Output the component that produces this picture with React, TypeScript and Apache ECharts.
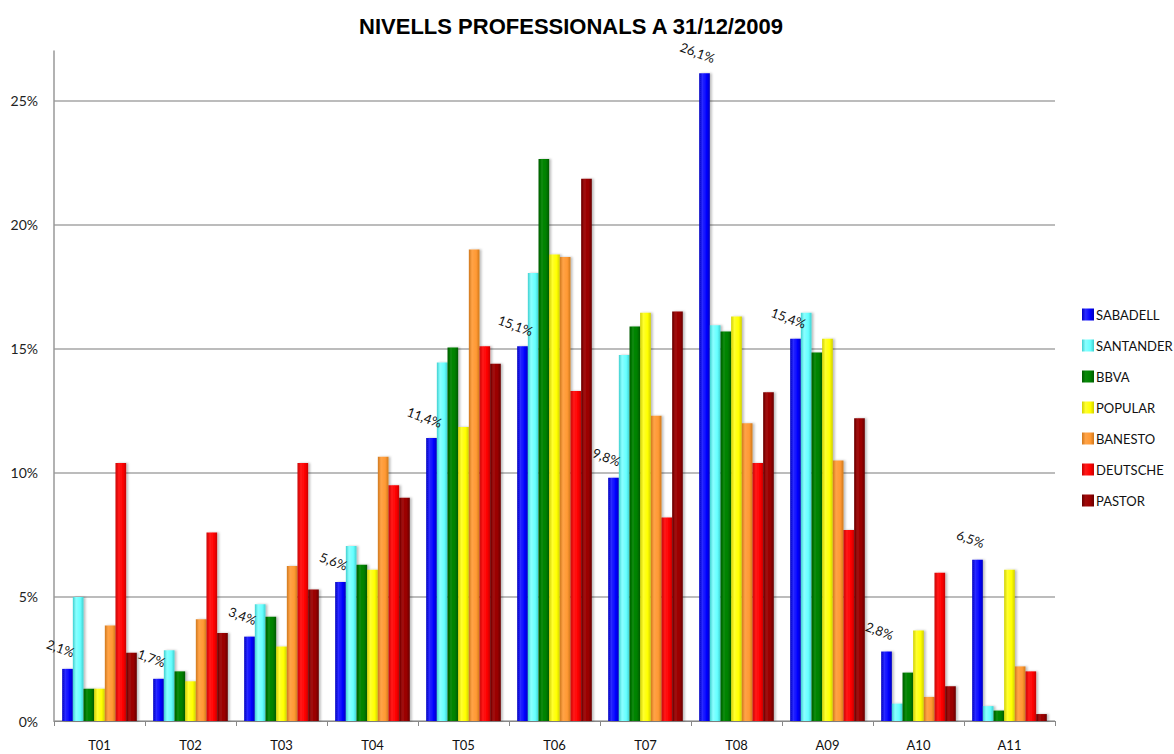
import React, { useEffect, useRef } from "react";
import * as echarts from "echarts";

const categories = ["T01", "T02", "T03", "T04", "T05", "T06", "T07", "T08", "A09", "A10", "A11"];
const seriesNames = ["SABADELL", "SANTANDER", "BBVA", "POPULAR", "BANESTO", "DEUTSCHE", "PASTOR"];

const sabadell = [2.1, 1.7, 3.4, 5.6, 11.4, 15.1, 9.8, 26.1, 15.4, 2.8, 6.5];
const santander = [5.0, 2.85, 4.7, 7.05, 14.45, 18.05, 14.75, 15.95, 16.45, 0.7, 0.6];
const bbva = [1.3, 2.0, 4.2, 6.3, 15.05, 22.65, 15.9, 15.7, 14.85, 1.95, 0.42];
const popular = [1.3, 1.6, 3.0, 6.1, 11.85, 18.8, 16.45, 16.3, 15.4, 3.65, 6.1];
const banesto = [3.85, 4.1, 6.25, 10.65, 19.0, 18.7, 12.3, 12.0, 10.5, 0.97, 2.2];
const deutsche = [10.4, 7.6, 10.4, 9.5, 15.1, 13.3, 8.2, 10.4, 7.7, 5.97, 2.0];
const pastor = [2.75, 3.55, 5.3, 9.0, 14.4, 21.85, 16.5, 13.25, 12.2, 1.4, 0.28];

const yTickValues = [0, 5, 10, 15, 20, 25];

const allData = [sabadell, santander, bbva, popular, banesto, deutsche, pastor];
const baseColors = ["#0000ff", "#66ffff", "#008000", "#ffff00", "#ff9933", "#ff0000", "#990000"];
const edgeColors = ["#0000c0", "#3fd0d0", "#005a00", "#d0d000", "#d0781c", "#c80000", "#680000"];
const lightColors = ["#2a2aff", "#8affff", "#0a8a0a", "#ffff30", "#ffa347", "#ff1a1a", "#a00a0a"];

export default function App() {
  const ref = useRef<HTMLDivElement>(null);
  useEffect(() => {
    document.body.style.margin = "0";
    const chart = echarts.init(ref.current!, null, { renderer: "svg" });
    const font = "Lato, 'Open Sans', sans-serif";
    const series = allData.map((d, i) => ({
      name: seriesNames[i],
      type: "bar",
      data: d,
      barGap: "0%",
      barCategoryGap: "18%",
      itemStyle: {
        color: new echarts.graphic.LinearGradient(0, 0, 1, 0, [
          { offset: 0, color: edgeColors[i] },
          { offset: 0.3, color: lightColors[i] },
          { offset: 0.7, color: baseColors[i] },
          { offset: 1, color: edgeColors[i] },
        ]),
        shadowColor: "rgba(0,0,0,0.25)",
        shadowOffsetX: 2,
        shadowBlur: 2,
      },
      label:
        i === 0
          ? {
              show: true,
              position: "top",
              rotate: -20,
              offset: [-12, -6],
              fontFamily: font,
              fontSize: 13,
              color: "#111",
              formatter: (p: any) => p.value.toFixed(1).replace(".", ",") + "%",
            }
          : { show: false },
    }));
    chart.setOption({
      animation: false,
      backgroundColor: "#ffffff",
      title: {
        text: "NIVELLS PROFESSIONALS A 31/12/2009",
        left: 566,
        textAlign: "center",
        top: 10,
        textStyle: {
          fontFamily: "'Liberation Sans', Arial, sans-serif",
          fontWeight: "bold",
          fontSize: 22,
          color: "#000",
        },
      },
      legend: {
        orient: "vertical",
        left: 1077,
        top: 303,
        itemWidth: 12,
        itemHeight: 12,
        itemGap: 18,
        icon: "rect",
        data: seriesNames,
        textStyle: { fontFamily: font, fontSize: 13, color: "#111", padding: [0, 0, 0, -3], lineHeight: 12 },
      },
      grid: { left: 54, right: 119, top: 51, bottom: 33 },
      xAxis: {
        type: "category",
        data: categories,
        axisLine: { lineStyle: { color: "#888", width: 1 } },
        axisTick: { show: true, length: 5, lineStyle: { color: "#888" } },
        axisLabel: { fontFamily: font, fontSize: 13, color: "#111", margin: 17 },
      },
      yAxis: {
        type: "value",
        min: 0,
        max: 27,
        interval: 5,
        axisLine: { show: true, lineStyle: { color: "#999", width: 1.5 } },
        axisTick: { show: false },
        axisLabel: {
          fontFamily: font,
          fontSize: 14,
          color: "#222",
          margin: 16,
          formatter: (v: number) => (yTickValues.includes(v) ? v + "%" : ""),
        },
        splitLine: {
          show: true,
          lineStyle: {
            color: ["#a6a6a6", "#a6a6a6", "#a6a6a6", "#a6a6a6", "#a6a6a6", "#a6a6a6", "rgba(0,0,0,0)"],
            width: 1.5,
          },
        },
      },
      series,
    });
    return () => chart.dispose();
  }, []);
  return <div ref={ref} style={{ width: 1174, height: 754 }} />;
}
